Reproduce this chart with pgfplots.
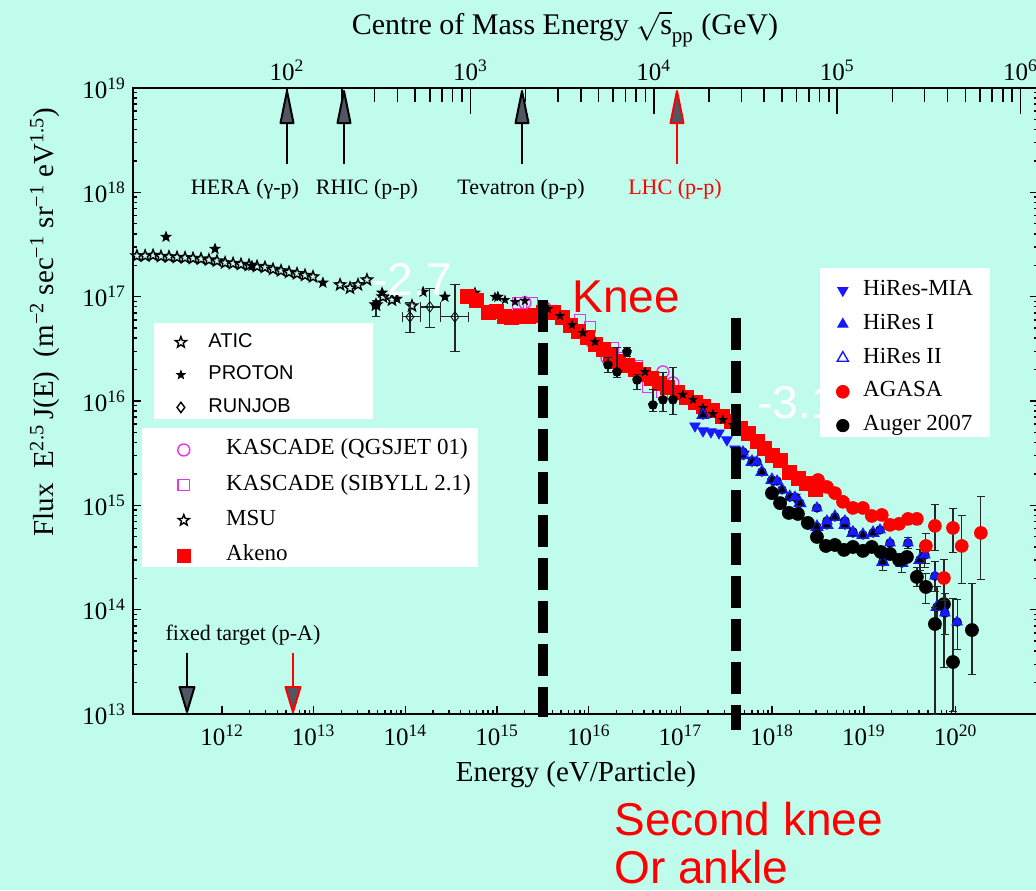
\documentclass[border=0pt]{standalone}
\usepackage{fontspec}
\setmainfont{Liberation Serif}
\newfontfamily\arial{Liberation Sans}
\usepackage{pgfplots}
\pgfplotsset{compat=1.18}
\usepackage{pgfplotstable}

\definecolor{bg}{RGB}{192,252,236}
\definecolor{headgray}{RGB}{80,86,100}
\definecolor{kmag}{RGB}{235,50,235}
\definecolor{hblue}{RGB}{25,25,255}

\newdimen\starin
\pgfdeclareplotmark{ostar}{%
  \starin=0.42\pgfplotmarksize
  \pgfpathmoveto{\pgfqpointpolar{90}{\pgfplotmarksize}}%
  \pgfpathlineto{\pgfqpointpolar{126}{\starin}}%
  \pgfpathlineto{\pgfqpointpolar{162}{\pgfplotmarksize}}%
  \pgfpathlineto{\pgfqpointpolar{198}{\starin}}%
  \pgfpathlineto{\pgfqpointpolar{234}{\pgfplotmarksize}}%
  \pgfpathlineto{\pgfqpointpolar{270}{\starin}}%
  \pgfpathlineto{\pgfqpointpolar{306}{\pgfplotmarksize}}%
  \pgfpathlineto{\pgfqpointpolar{342}{\starin}}%
  \pgfpathlineto{\pgfqpointpolar{18}{\pgfplotmarksize}}%
  \pgfpathlineto{\pgfqpointpolar{54}{\starin}}%
  \pgfpathclose\pgfusepathqstroke}
\pgfdeclareplotmark{fstar}{%
  \starin=0.42\pgfplotmarksize
  \pgfpathmoveto{\pgfqpointpolar{90}{\pgfplotmarksize}}%
  \pgfpathlineto{\pgfqpointpolar{126}{\starin}}%
  \pgfpathlineto{\pgfqpointpolar{162}{\pgfplotmarksize}}%
  \pgfpathlineto{\pgfqpointpolar{198}{\starin}}%
  \pgfpathlineto{\pgfqpointpolar{234}{\pgfplotmarksize}}%
  \pgfpathlineto{\pgfqpointpolar{270}{\starin}}%
  \pgfpathlineto{\pgfqpointpolar{306}{\pgfplotmarksize}}%
  \pgfpathlineto{\pgfqpointpolar{342}{\starin}}%
  \pgfpathlineto{\pgfqpointpolar{18}{\pgfplotmarksize}}%
  \pgfpathlineto{\pgfqpointpolar{54}{\starin}}%
  \pgfpathclose\pgfusepathqfillstroke}

% ---------------- data ----------------
\pgfplotstableread{
x y
1.18e11 2.46e17
1.45e11 2.46e17
1.77e11 2.49e17
2.16e11 2.43e17
2.64e11 2.41e17
3.23e11 2.38e17
3.95e11 2.36e17
4.83e11 2.33e17
5.90e11 2.30e17
7.21e11 2.25e17
8.81e11 2.20e17
1.08e12 2.11e17
1.32e12 2.08e17
1.61e12 2.04e17
1.97e12 2.00e17
2.41e12 1.95e17
2.94e12 1.91e17
3.60e12 1.83e17
4.40e12 1.77e17
5.38e12 1.71e17
6.58e12 1.66e17
8.04e12 1.60e17
9.83e12 1.55e17
}\atic
\pgfplotstableread{
x y
1.94e13 1.30e17
2.49e13 1.21e17
3.04e13 1.30e17
3.81e13 1.45e17
4.78e13 8.34e16
5.70e13 9.96e16
7.14e13 9.31e16
1.18e14 8.16e16
}\msu
\pgfplotstableread{
x y ep em
4.78e13 8.34e16 0.97e16 1.94e16
}\msuerr
\pgfplotstableread{
x y
2.45e11 3.74e17
8.39e11 2.87e17
2.12e12 1.97e17
1.26e13 1.36e17
5.56e13 1.09e17
8.09e13 9.53e16
1.56e14 1.11e17
2.70e14 9.96e16
5.74e14 1.09e17
1.02e15 9.96e16
}\proton
\pgfplotstableread{
x y xp xm yp ym
1.12e14 6.40e16 0.32e14 0.20e14 2.33e16 1.90e16
1.85e14 7.98e16 0.53e14 0.41e14 4.12e16 2.96e16
3.47e14 6.40e16 1.35e14 1.09e14 6.60e16 3.44e16
}\runjob
\pgfplotstableread{
x y
4.70e14 9.96e16
5.89e14 9.31e16
7.96e14 7.00e16
9.73e14 7.15e16
1.19e15 6.40e16
1.45e15 6.27e16
1.78e15 6.40e16
2.17e15 6.40e16
2.65e15 6.55e16
3.24e15 7.00e16
4.07e15 7.00e16
5.11e15 6.27e16
6.24e15 5.25e16
7.62e15 4.60e16
9.55e15 4.03e16
1.17e16 3.52e16
1.43e16 3.09e16
1.70e16 2.77e16
2.08e16 2.42e16
2.61e16 2.17e16
3.19e16 1.99e16
3.90e16 1.78e16
4.76e16 1.63e16
5.83e16 1.49e16
7.13e16 1.34e16
9.16e16 1.20e16
1.15e17 1.09e16
1.44e17 9.80e15
1.76e17 8.78e15
2.21e17 8.04e15
2.84e17 7.19e15
3.56e17 6.31e15
4.46e17 5.52e15
5.45e17 4.94e15
6.82e17 4.14e15
8.15e17 3.55e15
9.95e17 3.04e15
1.22e18 2.67e15
1.56e18 2.09e15
1.91e18 1.83e15
2.39e18 1.64e15
2.93e18 1.41e15
}\akeno
\pgfplotstableread{
x y
2.01e15 8.73e16
3.33e15 7.81e16
1.08e16 3.69e16
1.58e16 2.59e16
2.81e16 2.22e16
6.44e16 1.90e16
8.28e16 1.49e16
}\kasq
\pgfplotstableread{
x y
1.69e15 8.73e16
2.40e15 8.73e16
8.02e15 6.00e16
1.03e16 5.13e16
1.84e16 3.23e16
2.42e16 2.59e16
3.36e16 2.17e16
4.43e16 1.36e16
6.28e16 1.22e16
}\kasib
\pgfplotstableread{
x y
9.48e14 9.96e16
1.22e15 9.31e16
1.57e15 8.91e16
2.01e15 9.12e16
3.59e15 7.64e16
4.85e15 6.55e16
6.56e15 5.37e16
8.65e15 4.50e16
1.17e16 3.69e16
1.62e16 2.22e16
2.03e16 1.90e16
2.61e16 2.96e16
3.36e16 1.59e16
4.10e16 1.90e16
5.01e16 9.18e15
6.44e16 1.03e16
8.28e16 1.03e16
1.06e17 1.15e16
1.37e17 1.03e16
1.76e17 8.59e15
2.26e17 7.52e15
2.90e17 6.59e15
3.74e17 5.90e15
}\kneeblk
\pgfplotstableread{
x y ep em
1.62e16 2.22e16 0.37e16 0.32e16
2.03e16 1.90e16 1.33e16 0.20e16
2.61e16 2.96e16 0.30e16 0.30e16
3.36e16 1.59e16 0.19e16 0.31e16
5.01e16 9.18e15 3.6e15 1.3e15
6.44e16 1.03e16 8.7e15 2.4e15
8.28e16 1.03e16 1.09e16 2.8e15
}\kneeerr
\pgfplotstableread{
x y
1.44e17 5.77e15
1.76e17 5.17e15
2.15e17 5.06e15
2.63e17 4.94e15
3.21e17 4.24e15
3.93e17 3.47e15
4.92e17 3.11e15
6.03e17 2.72e15
1.02e18 1.68e15
1.77e18 1.20e15
}\hiresmia
\pgfplotstableread{
x y ep em
4.81e17 3.25e15 0 0
6.82e17 2.61e15 0 0
1.13e18 1.71e15 0 0
1.77e18 1.20e15 0 0
3.08e18 9.44e14 0 0
3.96e18 7.08e14 0 0
6.22e18 7.08e14 0 0
7.60e18 5.56e14 0 0
1.50e19 5.81e14 0 0
1.93e19 4.36e14 0 0
3.03e19 4.36e14 0.6e14 0.5e14
4.63e19 3.34e14 1.0e14 0.8e14
5.96e19 2.10e14 0.8e14 0.6e14
7.66e19 9.29e13 0.5e14 0.35e14
1.04e20 7.62e13 0.5e14 0.35e14
}\hiresone
\pgfplotstableread{
x y ep em
1.76e17 7.36e15 0 0
4.69e17 3.04e15 0 0
6.03e17 2.61e15 0 0
7.74e17 2.09e15 0 0
9.95e17 1.75e15 0 0
1.28e18 1.41e15 0 0
1.56e18 1.20e15 0 0
2.01e18 1.05e15 0 0
3.08e18 6.21e14 0 0
3.96e18 6.49e14 0 0
4.84e18 7.74e14 0 0
6.22e18 6.49e14 0 0
7.60e18 5.44e14 0 0
9.77e18 5.20e14 0 0
1.26e19 5.44e14 0 0
1.61e19 2.87e14 0.6e14 0.5e14
2.60e19 2.80e14 0.6e14 0.5e14
4.09e19 3.00e14 0.8e14 0.6e14
6.27e19 1.06e14 0.6e14 0.4e14
}\hirestwo
\pgfplotstableread{
x y ep em
3.16e18 1.75e15 0 0
3.96e18 1.50e15 0 0
4.84e18 1.31e15 0 0
5.92e18 1.08e15 0 0
7.60e18 9.44e14 0 0
9.77e18 9.44e14 0 0
1.22e19 7.91e14 0 0
1.57e19 8.09e14 0 0
1.93e19 6.49e14 0 0
2.42e19 6.64e14 0 0
3.03e19 7.41e14 0.8e14 0.8e14
3.79e19 7.41e14 0.8e14 0.8e14
4.75e19 4.08e14 1.36e14 1.28e14
5.96e19 6.35e14 3.75e14 2.61e14
7.47e19 2.01e14 0.99e14 0.77e14
9.37e19 6.07e14 3.37e14 2.50e14
1.17e20 4.08e14 4.01e14 2.28e14
1.89e20 5.44e14 6.86e14 3.51e14
}\agasa
\pgfplotstableread{
x y ep em
9.95e17 1.31e15 0 0
1.22e18 1.05e15 0 0
1.52e18 8.46e14 0 0
1.91e18 8.27e14 0 0
2.45e18 6.78e14 0 0
3.08e18 4.98e14 0 0
3.86e18 4.08e14 0 0
4.84e18 4.17e14 0 0
6.07e18 3.74e14 0 0
7.60e18 3.99e14 0 0
9.77e18 3.66e14 0 0
1.22e19 3.99e14 0 0
1.53e19 3.57e14 0 0
1.93e19 3.42e14 0 0
2.42e19 3.00e14 0.3e14 0.3e14
2.95e19 3.20e14 0.3e14 0.3e14
3.79e19 2.06e14 0.5e14 0.4e14
4.75e19 1.65e14 0.6e14 0.5e14
5.96e19 7.29e13 3.3e13 6.29e13
7.47e19 1.13e14 0.80e14 0.85e14
9.37e19 3.15e13 0.98e14 2.1e13
1.51e20 6.38e13 1.16e14 0.40e14
}\auger

\pgfplotsset{
  pos/.style={at={(66.5pt,-357pt)}, anchor=south west, scale only axis,
              width=452.5pt, height=313pt},
  errs/.style={forget plot, only marks, mark=none,
     error bars/.cd, y dir=both, y explicit,
     error bar style={line width=0.6pt, black!85}},
  legbase/.style={hide axis, xmin=0, xmax=1, ymin=0, ymax=1,
     legend cell align=left,
     legend image code/.code={\draw[##1] plot coordinates {(0pt,0pt)};}},
}

\begin{document}
\begin{tikzpicture}
\useasboundingbox (0pt,0pt) rectangle (518pt,-445pt);
\fill[bg] (0pt,0pt) rectangle (518pt,-445pt);

% ---- top axis: centre of mass energy ----
\begin{axis}[pos, xmode=log, xmin=14.45, xmax=1.245e6, ymin=0, ymax=1,
  axis x line*=top, axis y line=none, xtick align=inside,
  axis line style={line width=1.2pt},
  xtick={1e2,1e3,1e4,1e5,1e6},
  xticklabels={10\textsuperscript{2},10\textsuperscript{3},10\textsuperscript{4},10\textsuperscript{5},10\textsuperscript{6}},
  major tick length=13pt, minor tick length=7pt,
  tick style={line width=0.8pt, black},
  tick label style={font=\fontsize{12.5}{14}\selectfont},
]
\addplot[draw=none] coordinates {(100,0.5)};
\end{axis}

% ---- main axis ----
\begin{axis}[pos, xmode=log, ymode=log,
  xmin=1.07e11, xmax=7.94e20, ymin=1e13, ymax=1e19, clip=false,
  clip marker paths=true,
  axis line style={line width=0.9pt},
  xtick pos=left, yticklabel pos=left,
  xtick={1e12,1e13,1e14,1e15,1e16,1e17,1e18,1e19,1e20},
  xticklabels={10\textsuperscript{12},10\textsuperscript{13},10\textsuperscript{14},10\textsuperscript{15},10\textsuperscript{16},10\textsuperscript{17},10\textsuperscript{18},10\textsuperscript{19},10\textsuperscript{20}},
  ytick={1e13,1e14,1e15,1e16,1e17,1e18,1e19},
  yticklabels={10\textsuperscript{13},10\textsuperscript{14},10\textsuperscript{15},10\textsuperscript{16},10\textsuperscript{17},10\textsuperscript{18},10\textsuperscript{19}},
  major tick length=4pt, minor tick length=2pt,
  tick style={line width=0.7pt, black},
  tick label style={font=\fontsize{12.5}{14}\selectfont},
  xticklabel style={yshift=-2pt},
  mark options={line width=0.7pt},
]
\addplot[only marks, mark=ostar, mark size=2.9pt, black] table {\atic};
\addplot[errs] table[y error plus=ep, y error minus=em] {\msuerr};
\addplot[only marks, mark=ostar, mark size=2.9pt, black] table {\msu};
\addplot[only marks, mark=fstar, mark size=2.2pt, black] table {\proton};
\addplot[forget plot, only marks, mark=diamond, mark size=2.6pt, black, mark options={fill=white},
  error bars/.cd, x dir=both, x explicit, y dir=both, y explicit,
  error bar style={line width=0.6pt, black!85}]
  table[x error plus=xp, x error minus=xm, y error plus=yp, y error minus=ym] {\runjob};
\addplot[only marks, mark=o, mark size=3pt, kmag] table {\kasq};
\addplot[only marks, mark=square, mark size=2.8pt, kmag] table {\kasib};
\addplot[only marks, mark=square*, mark size=3.5pt, red, mark options={draw=red, fill=red}] table {\akeno};
\addplot[errs] table[y error plus=ep, y error minus=em] {\kneeerr};
\addplot[only marks, mark=fstar, mark size=1.7pt, black] table {\kneeblk};
\addplot[only marks, mark=triangle*, mark size=3pt, hblue, mark options={rotate=180, fill=hblue}] table {\hiresmia};
\addplot[errs] table[y error plus=ep, y error minus=em] {\hirestwo};
\addplot[only marks, mark=triangle, mark size=3.2pt, hblue] table {\hirestwo};
\addplot[errs] table[y error plus=ep, y error minus=em] {\auger};
\addplot[only marks, mark=*, mark size=3.1pt, black] table {\auger};
\addplot[errs] table[y error plus=ep, y error minus=em] {\hiresone};
\addplot[only marks, mark=triangle*, mark size=3pt, hblue, mark options={fill=hblue}] table {\hiresone};
\addplot[errs] table[y error plus=ep, y error minus=em] {\agasa};
\addplot[only marks, mark=*, mark size=3.2pt, red, mark options={draw=red, fill=red}] table {\agasa};
% knee lines (on top of the data)
\addplot[black, line width=5.2pt, dash pattern=on 16pt off 5.5pt] coordinates {(3.17e15,9.31e16) (3.17e15,9.36e12)};
\addplot[black, line width=5.2pt, dash pattern=on 16pt off 5.5pt] coordinates {(4.03e17,6.27e16) (4.03e17,7.03e12)};
\end{axis}

\begin{scope}[x=0.5pt,y=-0.5pt, line join=round]
  % accelerator arrows
  \foreach \xx in {287,344,522}{
    \draw[line width=1.1pt] (\xx,164) -- (\xx,122);
    \draw[line width=1pt, fill=headgray] (\xx-6.5,123) -- (\xx+6.5,123) -- (\xx,91) -- cycle;}
  \draw[red, line width=1.1pt] (677,164) -- (677,122);
  \draw[red, line width=1pt, fill=headgray] (670.5,123) -- (683.5,123) -- (677,91) -- cycle;
  \draw[line width=1.1pt] (187,653) -- (187,688);
  \draw[line width=1pt, fill=headgray] (179.5,687) -- (194.5,687) -- (187,712) -- cycle;
  \draw[red, line width=1.1pt] (293,653) -- (293,688);
  \draw[red, line width=1pt, fill=headgray] (285.5,687) -- (300.5,687) -- (293,712) -- cycle;
  \begin{scope}[font=\fontsize{11}{13}\selectfont]
    \node at (245,189) {HERA (γ-p)};
    \node at (367,189) {RHIC (p-p)};
    \node at (521,189) {Tevatron (p-p)};
    \node[red] at (675,189) {LHC (p-p)};
    \node at (243,635) {fixed target (p-A)};
  \end{scope}
  % titles
  \node[font=\fontsize{14.5}{17}\selectfont] at (576,775) {Energy (eV/Particle)};
  \node[inner sep=0pt, font=\fontsize{15}{18}\selectfont] at (565,29) {Centre of Mass Energy $\sqrt{\mathrm{s}}_{\mathrm{pp}}$ (GeV)};
  \node[rotate=90, font=\fontsize{14.5}{17}\selectfont] at (45,322)
    {Flux\ \ E\textsuperscript{2.5}\,J(E)\ \ (m\textsuperscript{−2} sec\textsuperscript{−1} sr\textsuperscript{−1} eV\textsuperscript{1.5})};
  % slope annotations
  \node[anchor=base west, inner sep=0pt, white, font=\arial\fontsize{23}{27}\selectfont] at (372,295) {-2.7};
  \node[anchor=base west, inner sep=0pt, white, font=\arial\fontsize{23}{27}\selectfont] at (757,418) {-3.1};
  % legend boxes
  \fill[white] (154,323) rectangle (373,419);
  \fill[white] (142,428) rectangle (478,567);
  \fill[white] (820,268) rectangle (990,437);
  % red annotations
  \node[anchor=base west, inner sep=0pt, red, font=\arial\fontsize{23}{27}\selectfont] at (572,312) {Knee};
  \node[anchor=base west, inner sep=0pt, red, font=\arial\fontsize{23}{27}\selectfont] at (614,835) {Second knee};
  \node[anchor=base west, inner sep=0pt, red, font=\arial\fontsize{23}{27}\selectfont] at (614,883) {Or ankle};
\end{scope}

% ---- legend 1 ----
\begin{axis}[pos, legbase,
  legend style={at={(axis description cs:0.0464,0.6118)}, anchor=north west,
    draw=none, fill=none, inner sep=0pt, row sep=5.25pt,
    font=\arial\fontsize{10}{12}\selectfont,
    nodes={inner sep=0pt, text height=8pt, text depth=3pt},
    /tikz/every odd column/.append style={column sep=11pt}}]
\addlegendimage{only marks, mark=ostar, mark size=2.9pt, black, mark options={line width=0.7pt}}
\addlegendentry{ATIC}
\addlegendimage{only marks, mark=fstar, mark size=2.2pt, black}
\addlegendentry{PROTON}
\addlegendimage{only marks, mark=diamond, mark size=2.6pt, black, mark options={line width=0.7pt}}
\addlegendentry{RUNJOB}
\end{axis}

% ---- legend 2 ----
\begin{axis}[pos, legbase,
  legend style={at={(axis description cs:0.0486,0.4400)}, anchor=north west,
    draw=none, fill=none, inner sep=0pt, row sep=6.6pt,
    font=\fontsize{11.5}{13}\selectfont,
    nodes={inner sep=0pt, text height=8pt, text depth=3pt},
    /tikz/every odd column/.append style={column sep=18pt}}]
\addlegendimage{only marks, mark=o, mark size=3pt, kmag, mark options={line width=0.7pt}}
\addlegendentry{KASCADE (QGSJET 01)}
\addlegendimage{only marks, mark=square, mark size=2.8pt, kmag, mark options={line width=0.7pt}}
\addlegendentry{KASCADE (SIBYLL 2.1)}
\addlegendimage{only marks, mark=ostar, mark size=2.9pt, black, mark options={line width=0.7pt}}
\addlegendentry{MSU}
\addlegendimage{only marks, mark=square*, mark size=3.2pt, red, mark options={draw=red, fill=red}}
\addlegendentry{Akeno}
\end{axis}

% ---- legend 3 ----
\begin{axis}[pos, legbase,
  legend style={at={(axis description cs:0.7768,0.6949)}, anchor=north west,
    draw=none, fill=none, inner sep=0pt, row sep=5.9pt,
    font=\fontsize{11.5}{13}\selectfont,
    nodes={inner sep=0pt, text height=8pt, text depth=3pt},
    /tikz/every odd column/.append style={column sep=7pt}}]
\addlegendimage{only marks, mark=triangle*, mark size=3pt, hblue, mark options={rotate=180, fill=hblue}}
\addlegendentry{HiRes-MIA}
\addlegendimage{only marks, mark=triangle*, mark size=3pt, hblue, mark options={fill=hblue}}
\addlegendentry{HiRes I}
\addlegendimage{only marks, mark=triangle, mark size=3.2pt, hblue, mark options={line width=0.7pt}}
\addlegendentry{HiRes II}
\addlegendimage{only marks, mark=*, mark size=3.2pt, red, mark options={draw=red, fill=red}}
\addlegendentry{AGASA}
\addlegendimage{only marks, mark=*, mark size=3.1pt, black}
\addlegendentry{Auger 2007}
\end{axis}
\end{tikzpicture}
\end{document}
